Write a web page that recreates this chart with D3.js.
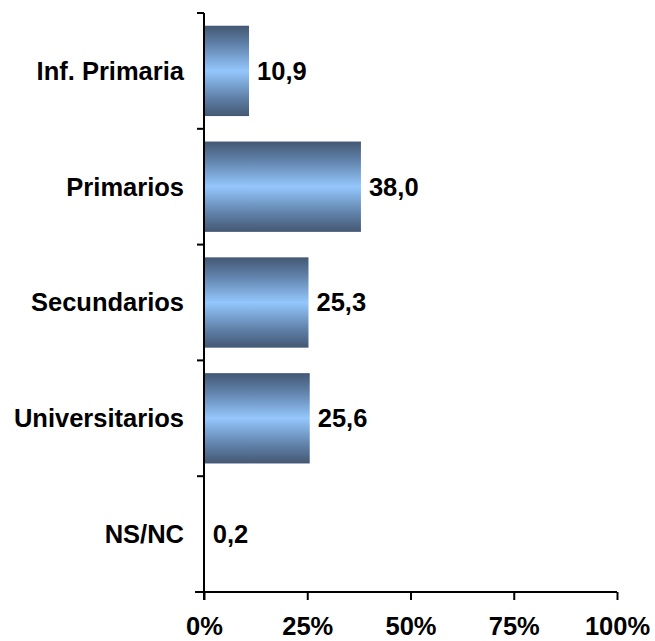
<!DOCTYPE html>
<html>
<head>
<meta charset="utf-8">
<script src="https://cdn.jsdelivr.net/npm/d3@7"></script>
<style>
  body { margin: 0; background: #fff; }
  text { font-family: "Liberation Sans", Arial, sans-serif; font-weight: bold; }
</style>
</head>
<body>
<svg id="chart" width="655" height="641"></svg>
<script>
const categories = ["Inf. Primaria", "Primarios", "Secundarios", "Universitarios", "NS/NC"];
const values = [10.9, 38.0, 25.3, 25.6, 0.2];
const xTicks = [0, 25, 50, 75, 100];

const margin = {top: 13, left: 204, right: 38, bottom: 49};
const width = 655, height = 641;
const fontSize = 25.5;

const svg = d3.select("#chart");

const x = d3.scaleLinear()
    .domain([0, 100])
    .range([margin.left, width - margin.right]);

const y = d3.scaleBand()
    .domain(categories)
    .range([margin.top, height - margin.bottom])
    .paddingInner(0.22)
    .paddingOuter(0.11);

// vertical shading on the bars
const grad = svg.append("defs").append("linearGradient")
    .attr("id", "barGrad")
    .attr("x1", 0).attr("y1", 0).attr("x2", 0).attr("y2", 1);
grad.selectAll("stop")
    .data([
        {o: 0, c: "#445873"},
        {o: 0.2, c: "#5f80a8"},
        {o: 0.5, c: "#94c7fd"},
        {o: 0.8, c: "#5f80a8"},
        {o: 1, c: "#445873"}
    ])
    .join("stop")
    .attr("offset", d => d.o)
    .attr("stop-color", d => d.c);

const data = categories.map((c, i) => ({cat: c, v: values[i]}));

svg.append("g")
    .selectAll("rect")
    .data(data)
    .join("rect")
    .attr("x", x(0))
    .attr("y", d => y(d.cat))
    .attr("width", d => x(d.v) - x(0))
    .attr("height", y.bandwidth())
    .attr("fill", "url(#barGrad)");

const fmt = v => v.toFixed(1).replace(".", ",");

svg.append("g")
    .selectAll("text")
    .data(data)
    .join("text")
    .attr("x", d => x(d.v) + 8)
    .attr("y", d => y(d.cat) + y.bandwidth() / 2)
    .attr("dy", "0.35em")
    .attr("font-size", fontSize)
    .attr("fill", "#000")
    .text(d => fmt(d.v));

// y axis, ticks sit between the categories
const yAxis = svg.append("g");
yAxis.append("line")
    .attr("x1", x(0)).attr("x2", x(0))
    .attr("y1", margin.top).attr("y2", height - margin.bottom + 8)
    .attr("stroke", "#000").attr("stroke-width", 2);
const bounds = d3.range(categories.length).map(i => margin.top + i * y.step());
yAxis.selectAll(".tk")
    .data(bounds)
    .join("line")
    .attr("x1", x(0) - 7).attr("x2", x(0))
    .attr("y1", d => d).attr("y2", d => d)
    .attr("stroke", "#000").attr("stroke-width", 2);

yAxis.selectAll(".lbl")
    .data(categories)
    .join("text")
    .attr("x", 184)
    .attr("y", d => y(d) + y.bandwidth() / 2)
    .attr("dy", "0.35em")
    .attr("text-anchor", "end")
    .attr("font-size", fontSize)
    .text(d => d);

// x axis
const xAxis = svg.append("g")
    .attr("transform", `translate(0,${height - margin.bottom})`)
    .call(d3.axisBottom(x).tickValues(xTicks).tickSize(8).tickPadding(17).tickFormat(d => d + "%"));
xAxis.select(".domain").attr("stroke-width", 2).attr("d", `M${x(0) - 9},0H${x(100)}`);
xAxis.selectAll(".tick line").attr("stroke-width", 2);
xAxis.selectAll(".tick text")
    .attr("font-size", fontSize)
    .attr("font-family", "Liberation Sans, Arial, sans-serif")
    .attr("font-weight", "bold")
    .attr("fill", "#000");
</script>
</body>
</html>
